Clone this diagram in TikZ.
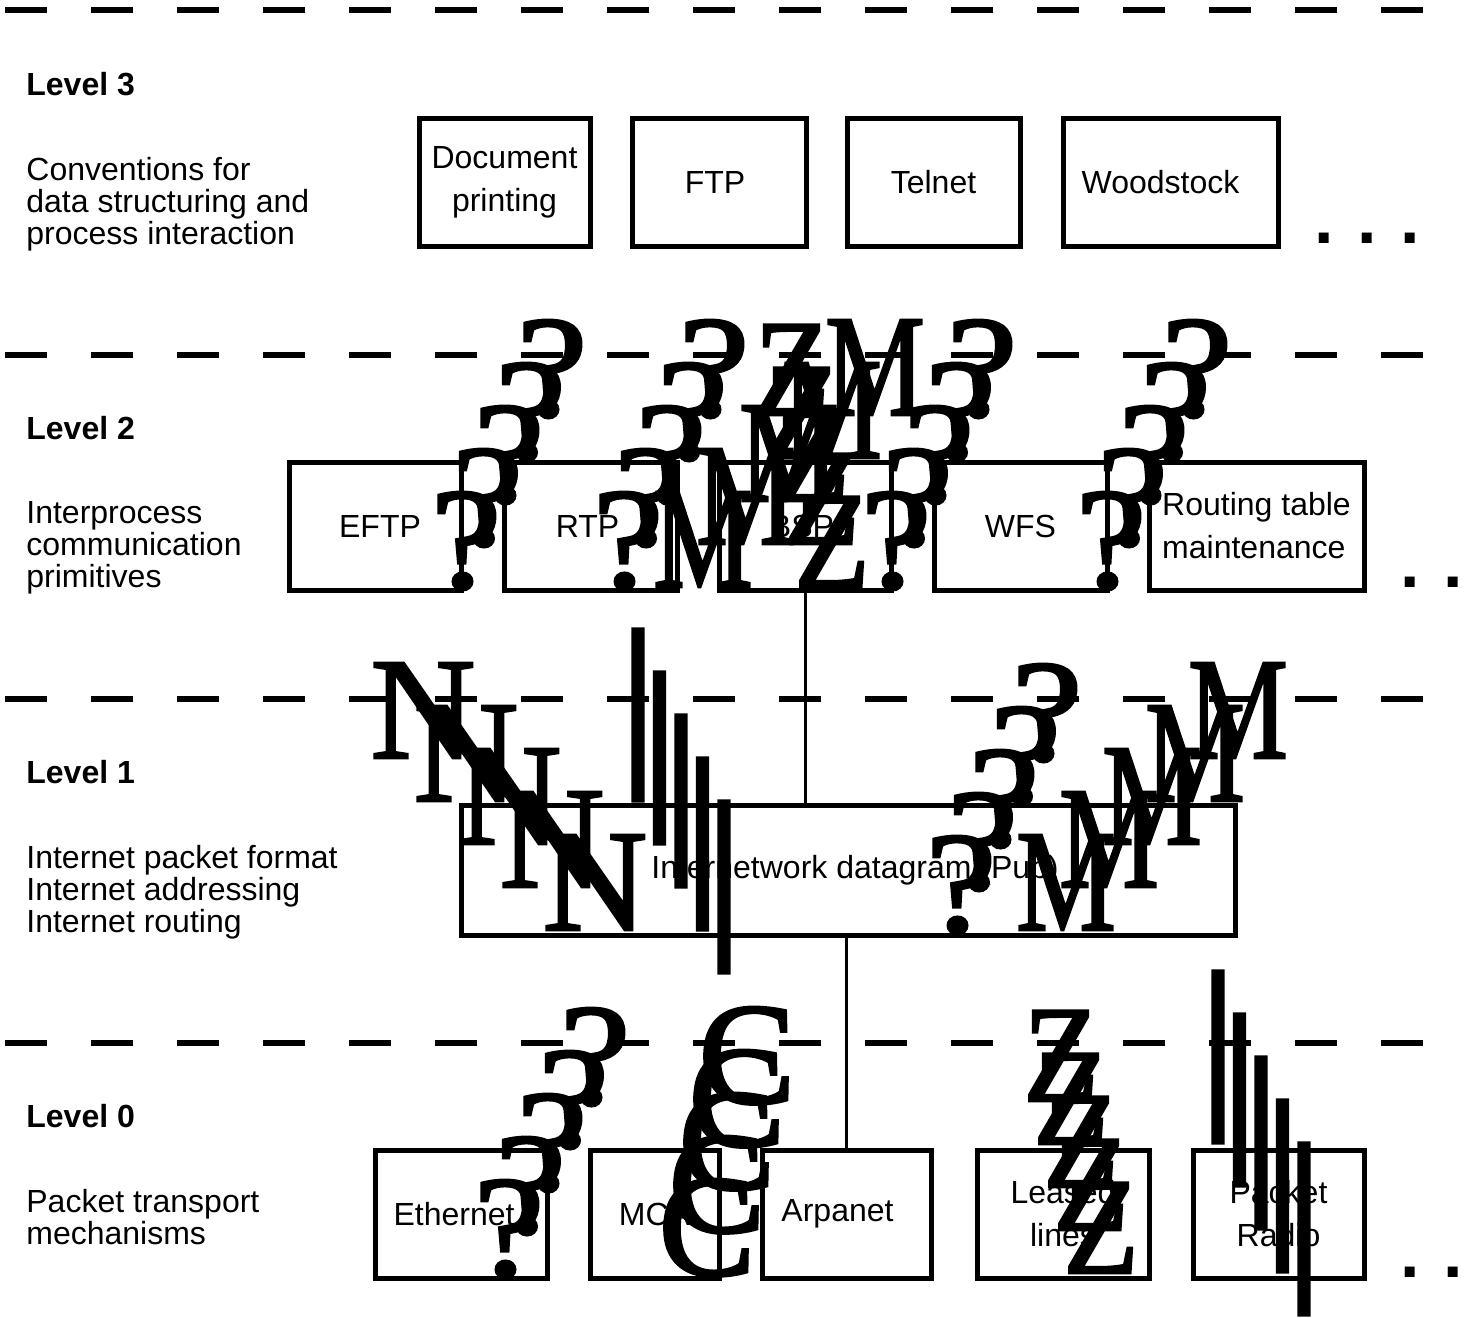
\documentclass[tikz,border=0pt]{standalone}
\usepackage{fontspec}
\usepackage{graphicx}
\setmainfont{Liberation Sans}
\newfontfamily\glyphfont[FakeBold=2]{Liberation Serif}
\usepackage{tikz}
\usetikzlibrary{calc}

\newcommand{\qglyph}{\scalebox{1.1}[1]{?}}
\newcommand{\mglyph}{\scalebox{0.77}[1]{M}}
\newcommand{\nglyph}{N}
\newcommand{\cglyph}{C}
\newcommand{\zglyph}{\scalebox{0.85}[0.95]{Z}}
\newcommand{\bglyph}{\scalebox{1.3}{|}}

\tikzset{
  box/.style={draw, line width=2.5pt, inner sep=0pt, align=center, font=\fontsize{16}{21.5}\selectfont},
  levelline/.style={line width=3pt, dash pattern=on 21pt off 22pt},
  wire/.style={line width=1.5pt},
  glyph/.style={inner sep=0pt, anchor=base, font=\glyphfont\fontsize{72.5}{72.5}\selectfont},
  leveltitle/.style={anchor=base west, inner sep=0pt, font=\bfseries\fontsize{16}{16}\selectfont},
  levelnote/.style={anchor=north west, inner sep=0pt, align=left, font=\fontsize{16}{16}\selectfont},
  etc/.style={anchor=base west, inner sep=0pt, font=\bfseries\fontsize{35}{35}\selectfont}
}

\begin{document}
\begin{tikzpicture}[x=0.5pt,y=-0.5pt]
\useasboundingbox (0,0) rectangle (1470,1317);
\fill[white] (0,0) rectangle (1470,1317);

\draw[levelline] (5,10) -- (1428,10);
\draw[levelline] (5,355) -- (1428,355);
\draw[levelline] (5,699) -- (1428,699);
\draw[levelline] (5,1043) -- (1428,1043);

\node[leveltitle] (t3) at (26,95) {Level 3};
\node[levelnote] (n3) at (26,156.7) {Conventions for\\data structuring and\\process interaction};
\node[leveltitle] (t2) at (26,439) {Level 2};
\node[levelnote] (n2) at (26,501.1) {Interprocess\\communication\\primitives};
\node[leveltitle] (t1) at (26,783) {Level 1};
\node[levelnote] (n1) at (26,844.7) {Internet packet format\\Internet addressing\\Internet routing};
\node[leveltitle] (t0) at (26,1127) {Level 0};
\node[levelnote] (n0) at (26,1188.7) {Packet transport\\mechanisms};

\node[box, minimum width=85.5pt, minimum height=64pt] (doc) at (504.5,182) {Document\hspace{5pt}\\printing\hspace{5pt}};
\node[box, minimum width=87pt, minimum height=64pt] (ftp) at (719,182) {FTP\hspace{4pt}};
\node[box, minimum width=86.5pt, minimum height=64pt] (telnet) at (933.5,182) {Telnet};
\node[box, minimum width=107.5pt, minimum height=64pt] (woodstock) at (1170.5,182) {Woodstock\hspace{10pt}};
\node[etc] (etc3) at (1314,243) {.\hspace{11.75pt}.\hspace{11.75pt}.};

\node[box, minimum width=86pt, minimum height=64pt] (eftp) at (375,526) {EFTP\hspace{-5pt}};
\node[box, minimum width=86.5pt, minimum height=64pt] (rtp) at (590.5,526) {RTP\hspace{3pt}};
\node[box, minimum width=86pt, minimum height=64pt] (bsp) at (805,526) {BSP\hspace{3pt}};
\node[box, minimum width=86.5pt, minimum height=64pt] (wfs) at (1020.5,526) {WFS};
\node[box, align=left, minimum width=107.5pt, minimum height=64pt] (routing) at (1256.5,526) {Routing table\hspace{4pt}\\maintenance};
\node[etc] (etc2) at (1400,587) {.\hspace{11.75pt}.\hspace{11.75pt}.};

\node[box, minimum width=387pt, minimum height=65pt] (pup) at (848,870) {Internetwork datagram (Pup)\hspace{-7pt}};

\node[box, minimum width=86pt, minimum height=64pt] (ethernet) at (461,1214) {Ethernet\hspace{7pt}};
\node[box, minimum width=64.5pt, minimum height=64pt] (mca) at (654.5,1214) {MCA};
\node[box, minimum width=84.5pt, minimum height=64pt] (arpanet) at (846.5,1214) {Arpanet\hspace{9pt}};
\node[box, minimum width=86pt, minimum height=64pt] (leased) at (1063,1214) {Leased\\lines};
\node[box, minimum width=85.5pt, minimum height=64pt] (radio) at (1278.5,1214) {Packet\hspace{8pt}\\Radio\hspace{8pt}};
\node[etc] (etc0) at (1400,1277) {.\hspace{11.75pt}.\hspace{11.75pt}.};

\draw[wire] (bsp.south) -- (bsp.south |- pup.north);
\draw[wire] (pup.south -| arpanet.north) -- (arpanet.north);

\foreach \chain/\x/\y/\dx/\gl in {qa/466/588/21.5/\qglyph, qb/628/588/21.5/\qglyph, qc/896/588/21.5/\qglyph, qd/1111/588/21.5/\qglyph, ma/703/587/43/\mglyph, za/832/587/-10/\zglyph,
  na/595/930/-43/\nglyph, ba/724/932/-21.5/\bglyph, qe/961/932/21.5/\qglyph, mb/1066/930/43/\mglyph,
  qf/509/1276/21.5/\qglyph, ca/707/1275/10/\cglyph, zb/1101/1273/-10/\zglyph, bb/1304/1274/-21.5/\bglyph}
  \foreach \k in {0,...,4}
    \node[glyph] (\chain\k) at ({\x+\dx*\k},{\y-43*\k}) {\gl};
\end{tikzpicture}
\end{document}
